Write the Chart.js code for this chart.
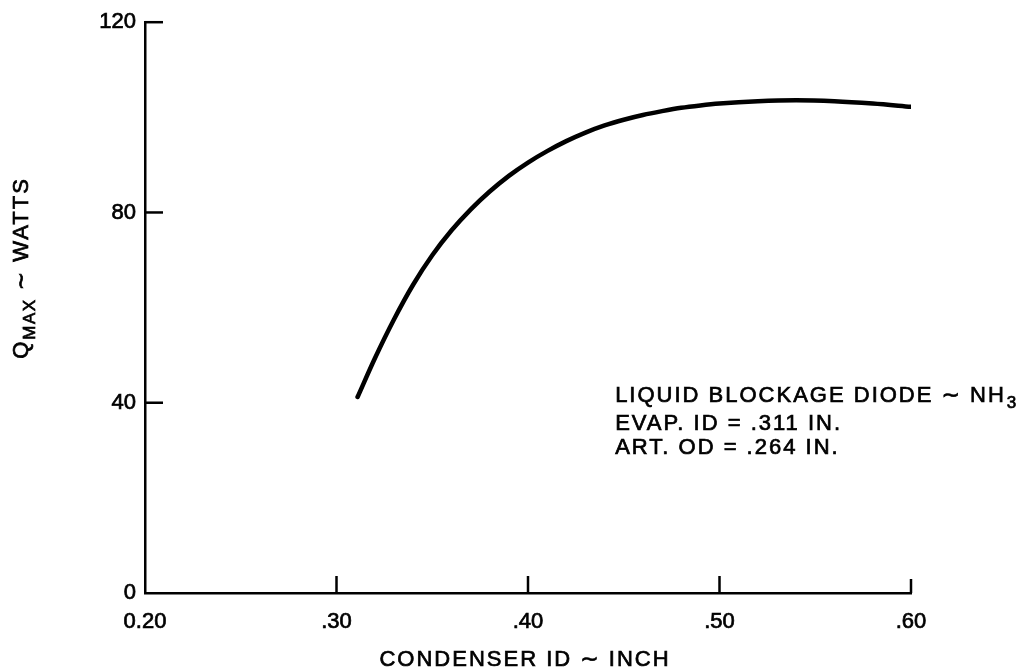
<!DOCTYPE html>
<html>
<head>
<meta charset="utf-8">
<script src="https://cdn.jsdelivr.net/npm/chart.js@4/dist/chart.umd.min.js"></script>
<style>
html,body{margin:0;padding:0;background:#fff;}
#wrap{width:1019px;height:670px;position:relative;}
</style>
</head>
<body>
<div id="wrap"><canvas id="c"></canvas></div>
<script>
// ---- data ----
const condenserId = [0.311,0.32,0.33,0.34,0.35,0.36,0.37,0.38,0.39,0.40,0.41,0.42,0.43,0.44,0.45,0.46,0.47,0.48,0.49,0.50,0.52,0.54,0.56,0.58,0.60];
const qMaxWatts   = [41.2,49.3,57.5,64.8,71.0,76.2,80.6,84.4,87.7,90.5,92.9,95.0,96.8,98.3,99.5,100.5,101.3,102.0,102.5,102.9,103.4,103.6,103.4,102.9,102.2];
const xTickLabels = {"0.20":"0.20","0.30":".30","0.40":".40","0.50":".50","0.60":".60"};
const yTickLabels = ["0","40","80","120"];
const xTitle = "CONDENSER ID \u223C INCH";
const yTitleMain = "Q", yTitleSub = "MAX", yTitleRest = " \u223C WATTS";
const noteLine1 = "LIQUID BLOCKAGE DIODE \u223C NH", noteLine1Sub = "3";
const noteLines = ["EVAP. ID = .311 IN.", "ART. OD = .264 IN."];
const noteAnchor = {x: 0.4455, y: 41.5};

const FONT = '"Liberation Sans", Arial, Helvetica, "DejaVu Sans", sans-serif';

function txt(ctx, s, x, y) {
  ctx.strokeText(s, x, y);
  ctx.fillText(s, x, y);
}

const innerTicks = {
  id: 'innerTicks',
  afterDraw(chart) {
    const ctx = chart.ctx, xs = chart.scales.x, ys = chart.scales.y;
    const a = chart.chartArea;
    ctx.save();
    ctx.strokeStyle = '#000';
    ctx.lineWidth = 2.5;
    ctx.lineCap = 'butt';
    xs.ticks.forEach(t => {
      if (t.value <= xs.min + 1e-9) return;
      const px = xs.getPixelForValue(t.value);
      const len = (t.value >= xs.max - 1e-9) ? 14 : 17;
      ctx.beginPath(); ctx.moveTo(px, a.bottom); ctx.lineTo(px, a.bottom - len); ctx.stroke();
    });
    ys.ticks.forEach(t => {
      if (t.value <= ys.min + 1e-9) return;
      const py = ys.getPixelForValue(t.value);
      ctx.beginPath(); ctx.moveTo(a.left, py); ctx.lineTo(a.left + 18, py); ctx.stroke();
    });

    ctx.fillStyle = '#000';
    ctx.strokeStyle = '#000';
    ctx.lineWidth = 0.7;
    const ls = v => { if ('letterSpacing' in ctx) ctx.letterSpacing = v; };
    // x title
    ctx.font = '22px ' + FONT;
    ls('2px');
    ctx.textAlign = 'center'; ctx.textBaseline = 'middle';
    txt(ctx, xTitle, (a.left + a.right) / 2 - 3, 660);

    // y title (rotated)
    ctx.save();
    ctx.translate(22, 268);
    ctx.rotate(-Math.PI / 2);
    ctx.textBaseline = 'middle'; ctx.textAlign = 'left';
    ctx.font = '22px ' + FONT; ls('2px');
    const wQ = ctx.measureText(yTitleMain).width;
    ctx.font = '17px ' + FONT; ls('1.5px');
    const wS = ctx.measureText(yTitleSub).width;
    ctx.font = '22px ' + FONT; ls('2px');
    const wR = ctx.measureText(yTitleRest).width;
    let x0 = -(wQ + wS + wR) / 2;
    txt(ctx, yTitleMain, x0, 0);
    ctx.font = '17px ' + FONT; ls('1.5px');
    txt(ctx, yTitleSub, x0 + wQ, 8);
    ctx.font = '22px ' + FONT; ls('2px');
    txt(ctx, yTitleRest, x0 + wQ + wS, 0);
    ctx.restore();

    // annotation
    const ax = xs.getPixelForValue(noteAnchor.x), ay = ys.getPixelForValue(noteAnchor.y);
    ctx.textAlign = 'left'; ctx.textBaseline = 'middle';
    ctx.font = '22px ' + FONT; ls('2px');
    txt(ctx, noteLine1, ax, ay);
    const w1 = ctx.measureText(noteLine1).width;
    ctx.font = '17px ' + FONT; ls('1px');
    txt(ctx, noteLine1Sub, ax + w1 + 1, ay + 8);
    ctx.font = '22px ' + FONT; ls('2px');
    noteLines.forEach((s, i) => txt(ctx, s, ax, ay + 28 + i * 24));
    ctx.restore();
  }
};

const tickFont = {size: 22, family: FONT};

new Chart(document.getElementById('c'), {
  type: 'line',
  data: {
    datasets: [{
      data: condenserId.map((x, i) => ({x, y: qMaxWatts[i]})),
      borderColor: '#000',
      borderWidth: 4.5,
      pointRadius: 0,
      fill: false,
      cubicInterpolationMode: 'monotone',
      borderCapStyle: 'round'
    }]
  },
  options: {
    responsive: true,
    maintainAspectRatio: false,
    animation: false,
    layout: {padding: {left: 0, right: 108, top: 20, bottom: 0}},
    plugins: {legend: {display: false}, tooltip: {enabled: false}},
    scales: {
      x: {
        type: 'linear', min: 0.2, max: 0.6,
        afterFit(s) { s.height = 77; },
        grid: {display: false, drawTicks: false},
        border: {display: true, color: '#000', width: 2.5},
        ticks: {
          stepSize: 0.1, padding: 16, color: '#000',
          font: tickFont, textStrokeColor: '#000', textStrokeWidth: 0.7,
          maxRotation: 0, autoSkip: false,
          callback: v => xTickLabels[v.toFixed(2)] || ''
        }
      },
      y: {
        type: 'linear', min: 0, max: 120,
        afterFit(s) { s.width = 145; },
        grid: {display: false, drawTicks: false},
        border: {display: true, color: '#000', width: 2.5},
        ticks: {
          stepSize: 40, padding: 9, color: '#000',
          font: tickFont, textStrokeColor: '#000', textStrokeWidth: 0.7,
          callback: v => yTickLabels.includes(String(v)) ? String(v) : ''
        }
      }
    }
  },
  plugins: [innerTicks]
});
</script>
</body>
</html>
